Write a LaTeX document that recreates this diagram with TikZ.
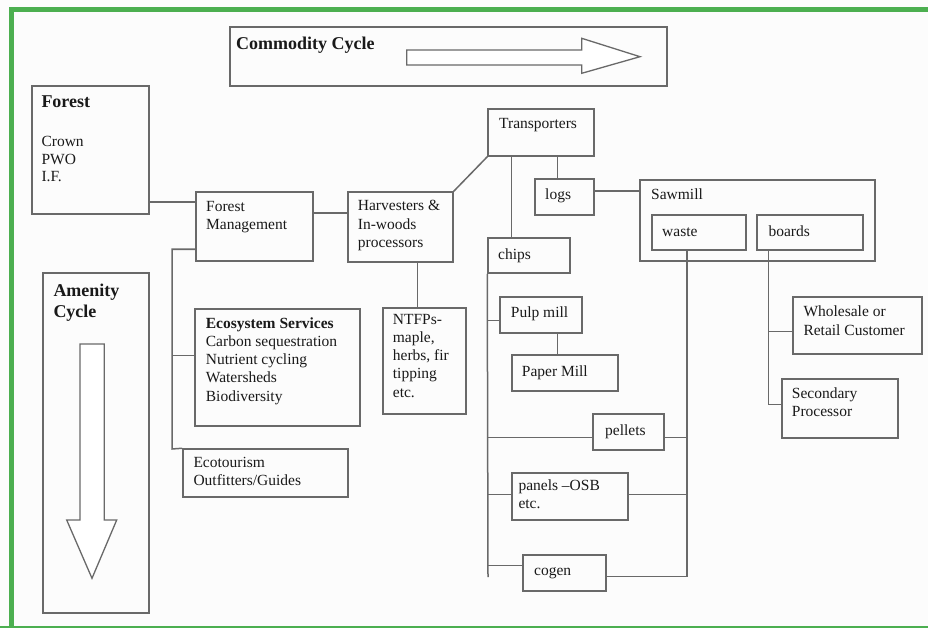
\documentclass[tikz,border=0pt]{standalone}
\usepackage{fontspec}
\setmainfont{Liberation Serif}
\usetikzlibrary{fit}
\definecolor{frameg}{RGB}{76,175,80}
\definecolor{boxc}{RGB}{105,105,105}
\definecolor{txtc}{RGB}{25,25,25}
\definecolor{bgc}{RGB}{252,252,252}
\tikzset{
  box/.style={draw=boxc, line width=1.5pt, inner sep=0pt},
  conn/.style={draw=boxc, line width=1.5pt},
  txt/.style={anchor=north west, inner sep=0pt, align=left, text=txtc,
    font=\fontsize{15.5}{18.2}\selectfont, execute at begin node=\strut},
  head/.style={txt, font=\fontsize{18}{21}\selectfont\bfseries},
  blockarrow/.style={draw=boxc, line width=1.3pt, fill=white, line join=miter}
}
\begin{document}
\begin{tikzpicture}[x=1pt,y=-1pt]
\useasboundingbox (0,0) rectangle (928,628);
\clip (0,0) rectangle (928,628);
\fill[bgc] (0,0) rectangle (928,628);
\draw[frameg, line width=5pt] (11.5,700) -- (11.5,9.5) -- (1000,9.5);
\draw[frameg, line width=5pt] (0,628.8) -- (1000,628.8);

% boxes
\node[box, fit={(230,27) (667,86)}] (comm) {};
\node[box, fit={(32,86) (149,214)}] (forest) {};
\node[box, fit={(43,273) (149,613)}] (amen) {};
\node[box, fit={(196,192) (313,261)}] (fm) {};
\node[box, fit={(348,192) (453,262)}] (harv) {};
\node[box, fit={(488,109) (594,156)}] (trans) {};
\node[box, fit={(535,179) (594,215)}] (logs) {};
\node[box, fit={(488,238) (570,273)}] (chips) {};
\node[box, fit={(640,180) (875,261)}] (saw) {};
\node[box, fit={(652,215) (746,250)}] (waste) {};
\node[box, fit={(757,215) (863,250)}] (boards) {};
\node[box, fit={(195,309) (360,426)}] (eco) {};
\node[box, fit={(183,449) (348,497)}] (ecot) {};
\node[box, fit={(383,308) (466,414)}] (ntfp) {};
\node[box, fit={(500,297) (582,333)}] (pulp) {};
\node[box, fit={(512,355) (618,391)}] (paper) {};
\node[box, fit={(593,414) (664,450)}] (pellets) {};
\node[box, fit={(512,473) (628,520)}] (panels) {};
\node[box, fit={(523,555) (606,591)}] (cogen) {};
\node[box, fit={(793,297) (922,354)}] (whole) {};
\node[box, fit={(782,379) (898,438)}] (sec) {};

% texts
\node[head] (commT) at (236,34.5) {Commodity Cycle};
\node[head] (forestT) at (41.3,93) {Forest};
\node[txt, font=\fontsize{15.5}{17.6}\selectfont] (forestB) at (41.3,136.3) {Crown\\PWO\\I.F.};
\node[head] (amenT) at (53.3,283.5) {Amenity\\Cycle};
\node[txt] (fmT) at (206,201) {Forest\\Management};
\node[txt] (harvT) at (357.7,200.4) {Harvesters \&\\In-woods\\processors};
\node[txt] (transT) at (499,115.8) {Transporters};
\node[txt] (logsT) at (545,187) {logs};
\node[txt] (chipsT) at (498,246.5) {chips};
\node[txt] (sawT) at (651,186.5) {Sawmill};
\node[txt] (wasteT) at (662,224) {waste};
\node[txt] (boardsT) at (768.3,224) {boards};
\node[txt] (pulpT) at (510.7,304.8) {Pulp mill};
\node[txt] (paperT) at (521.7,363.5) {Paper Mill};
\node[txt] (pelletsT) at (605,422.5) {pellets};
\node[txt] (panelsT) at (518.3,479.5) {panels –OSB\\etc.};
\node[txt] (cogenT) at (534,562.5) {cogen};
\node[txt] (ntfpT) at (392.7,314) {NTFPs-\\maple,\\herbs, fir\\tipping\\etc.};
\node[txt] (wholeT) at (803.3,306) {Wholesale or\\Retail Customer};
\node[txt] (secT) at (791.7,387.5) {Secondary\\Processor};
\node[txt] (ecoT) at (205.7,317.4) {\textbf{Ecosystem Services}\\Carbon sequestration\\Nutrient cycling\\Watersheds\\Biodiversity};
\node[txt] (ecotT) at (193.3,457) {Ecotourism\\Outfitters/Guides};

% block arrows
\draw[blockarrow] (406.7,50) -- (581.7,50) -- (581.7,38.3) -- (640,56.7) -- (581.7,73.3) -- (581.7,65) -- (406.7,65) -- cycle;
\draw[blockarrow] (80,344) -- (104.3,344) -- (104.3,520) -- (116.7,520) -- (92,578.3) -- (66.7,520) -- (80,520) -- cycle;

% connectors
\coordinate (fmA) at ([yshift=-11pt]fm.north west);
\draw[conn] (forest.east |- fmA) -- (fmA);
\coordinate (amL) at (172,449);
\draw[conn] ([yshift=-58pt]fm.north west) -| (amL) -- (ecot.north west);
\coordinate (ecoA) at ([yshift=-47pt]eco.north west);
\draw[conn] (ecoA) -- (ecoA -| amL);
\coordinate (fmB) at ([yshift=-22pt]fm.north east);
\draw[conn] (fmB) -- (fmB -| harv.west);
\draw[conn] (harv.north east) -- (trans.south west);
\coordinate (ntA) at ([xshift=35pt]ntfp.north west);
\draw[conn] (ntA |- harv.south) -- (ntA);
\coordinate (chA) at ([xshift=24pt]chips.north west);
\draw[conn] (chA |- trans.south) -- (chA);
\coordinate (lgA) at ([xshift=23pt]logs.north west);
\draw[conn] (lgA |- trans.south) -- (lgA);
\coordinate (lgB) at ([yshift=-13pt]logs.north east);
\draw[conn] (lgB) -- (lgB -| saw.west);
\coordinate (cb) at (488,577);
\draw[conn] (chips.south west) -- (cb);
\coordinate (puA) at ([yshift=-24pt]pulp.north west);
\draw[conn] (puA -| cb) -- (puA);
\coordinate (paA) at ([xshift=46pt]paper.north west);
\draw[conn] (paA |- pulp.south) -- (paA);
\coordinate (wb) at (687,577);
\draw[conn] (wb |- waste.south) -- (wb);
\coordinate (peA) at ([yshift=-24pt]pellets.north west);
\draw[conn] (peA -| cb) -- (peA);
\draw[conn] (peA -| pellets.east) -- (peA -| wb);
\coordinate (pnA) at ([yshift=-22pt]panels.north west);
\draw[conn] (pnA -| cb) -- (pnA);
\draw[conn] (pnA -| panels.east) -- (pnA -| wb);
\coordinate (cgA) at ([yshift=-11pt]cogen.north west);
\draw[conn] (cgA -| cb) -- (cgA);
\coordinate (cgB) at ([yshift=-22pt]cogen.north east);
\draw[conn] (cgB) -- (cgB -| wb);
\coordinate (bdA) at ([xshift=12pt]boards.south west);
\coordinate (seA) at ([yshift=-26pt]sec.north west);
\draw[conn] (bdA) |- (seA);
\coordinate (whA) at ([yshift=-35pt]whole.north west);
\draw[conn] (whA -| bdA) -- (whA);
\end{tikzpicture}
\end{document}
